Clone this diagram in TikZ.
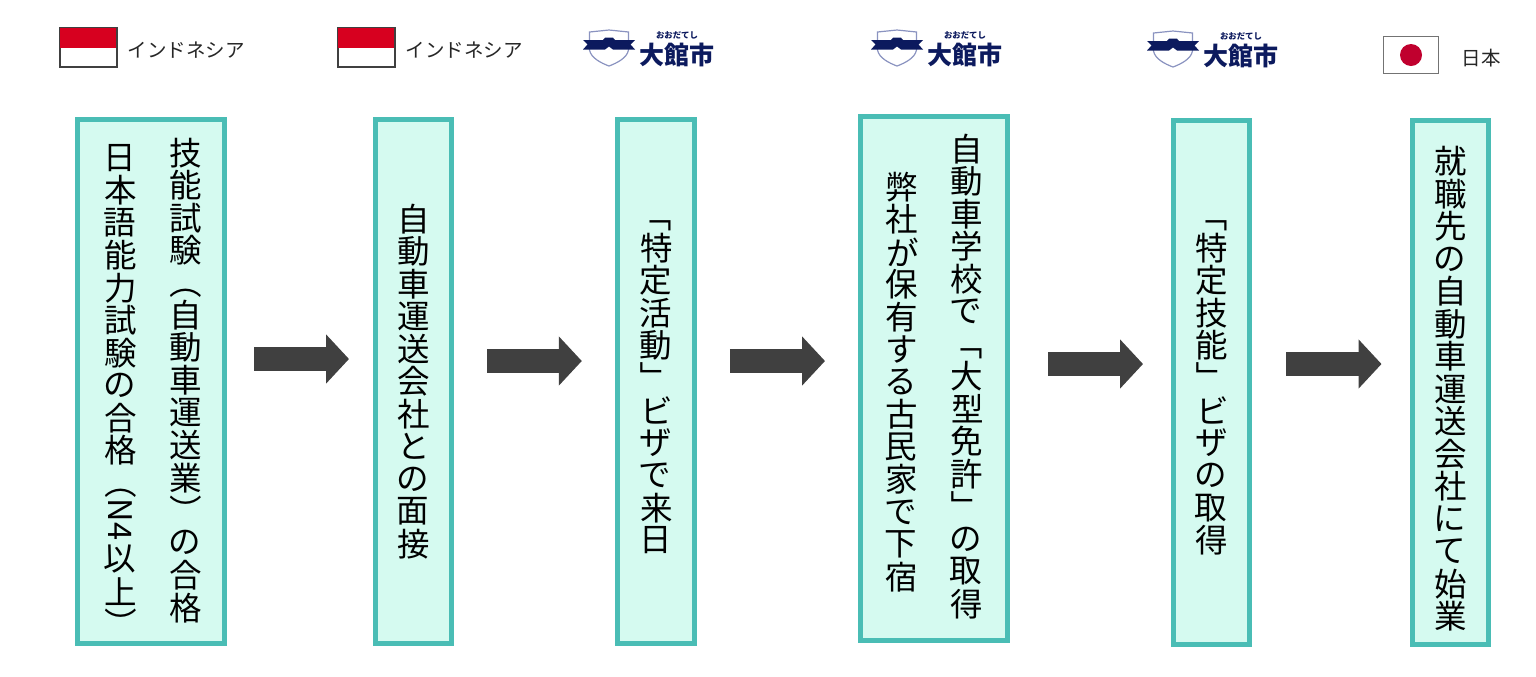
\documentclass[tikz,border=0pt]{standalone}
\usepackage{fontspec}
\usetikzlibrary{arrows.meta}
\setmainfont{Noto Sans CJK JP}
\makeatletter
\newcommand\tatecell{\expandafter\in@\expandafter{\tatenext}{（）「」}%
  \ifin@\tatenext\else
    \expandafter\in@\expandafter{\tatenext}{N4}%
    \ifin@\makebox[0.675em]{\tatenext}\else\makebox[1em]{\rotatebox[origin=c]{90}{\tatenext}}\fi
  \fi}
\newcommand\tateline[1]{\@tfor\tatenext:=#1\do{\tatecell}}
\makeatother
\definecolor{boxline}{HTML}{4ABDB5}
\definecolor{boxfill}{HTML}{D5FAF0}
\definecolor{arrowgray}{HTML}{404040}
\definecolor{logonavy}{HTML}{0C1A5E}
\definecolor{shieldline}{HTML}{8A93C0}
\definecolor{idred}{HTML}{D7001F}
\definecolor{jpred}{HTML}{C0002E}
\begin{document}
\begin{tikzpicture}[x=0.5pt,y=-0.5pt]

    \tikzset{
      stepbox/.style={
        draw=boxline,
        fill=boxfill,
        line width=2.5pt,
        inner sep=0pt,
      },
      tatetext/.style={
        rotate=-90,
        align=left,
        inner sep=0pt,
        font=\fontsize{16.25}{32.5}\selectfont,
      },
      flowarrow/.style={
        draw=arrowgray,
        line width=12pt,
        -{Triangle[length=11.5pt,width=24pt,color=arrowgray]},
      },
      flagbox/.style={
        draw=arrowgray,
        line width=0.6pt,
        fill=white,
        inner sep=0pt,
        minimum width=28.2pt,
        minimum height=19.2pt,
      },
      countrylabel/.style={
        inner sep=0pt,
        text=black!85,
        font=\fontsize{9.75}{12}\selectfont,
      },
      citylogo/.pic={
        \draw[shieldline,line width=0.6pt,fill=white] (6.5,2) -- (26,0) -- (45.5,2) -- (45.5,20)
          .. controls (44,28) and (34,33) .. (26,36)
          .. controls (18,33) and (8,28) .. (6.5,20) -- cycle;
        \fill[logonavy] (0,10) -- (20,10) -- (22,7.7) -- (30,7.7) -- (32,10) -- (52,10) -- (47.5,14.5)
          -- (52,19.5) -- (30,19.5) -- (26,16.5) -- (22,19.5) -- (0,19.5) -- (4.5,14.5) -- cycle;
        \node[inner sep=0pt,text=logonavy,font=\bfseries\fontsize{12.5}{14}\selectfont] (-name) at (94,24.5) {大館市};
        \node[inner sep=0pt,text=logonavy,font=\bfseries\fontsize{4.2}{5}\selectfont] (-kana) at (94,5) {おおだてし};
      },
    }
    \useasboundingbox (0,0) rectangle (1536,676);

    \node[stepbox,minimum width=73.5pt,minimum height=262pt] (box1) at (151,381.5) {};
    \node[stepbox,minimum width=38pt,minimum height=262pt] (box2) at (413.5,381.5) {};
    \node[stepbox,minimum width=38.5pt,minimum height=262pt] (box3) at (655.8,381.5) {};
    \node[stepbox,minimum width=73.5pt,minimum height=262pt] (box4) at (934,378.5) {};
    \node[stepbox,minimum width=38pt,minimum height=262pt] (box5) at (1211.5,382.5) {};
    \node[stepbox,minimum width=38pt,minimum height=262pt] (box6) at (1450,382.5) {};

    \node[tatetext] (text1) at (152.5,388.5) {\tateline{技能試験（自動車運送業）の合格}\\\hspace{2.5pt}\tateline{日本語能力試験の合格（N4以上）}};
    \node[tatetext] (text2) at (413.5,381.5) {\tateline{自動車運送会社との面接}};
    \node[tatetext] (text3) at (656,378) {\tateline{「特定活動」ビザで来日}};
    \node[tatetext] (text4) at (934,376.5) {\tateline{自動車学校で「大型免許」の取得}\\\hspace{19pt}\tateline{弊社が保有する古民家で下宿}};
    \node[tatetext] (text5) at (1211.5,378) {\tateline{「特定技能」ビザの取得}};
    \node[tatetext] (text6) at (1450,389) {\tateline{就職先の自動車運送会社にて始業}};

    \draw[flowarrow,shorten <=13.5pt,shorten >=12pt] (box1.east |- 0,359) -- (box2.west |- 0,359);
    \draw[flowarrow,shorten <=16.5pt,shorten >=16.5pt] (box2.east |- 0,361) -- (box3.west |- 0,361);
    \draw[flowarrow,shorten <=16.5pt,shorten >=16.5pt] (box3.east |- 0,361) -- (box4.west |- 0,361);
    \draw[flowarrow,shorten <=19pt,shorten >=14pt] (box4.east |- 0,364) -- (box5.west |- 0,364);
    \draw[flowarrow,shorten <=17pt,shorten >=14pt] (box5.east |- 0,364) -- (box6.west |- 0,364);

    \node[flagbox] (flag1) at (88.25,47.5) {};
    \fill[idred] (flag1.north west) rectangle (flag1.east);
    \draw[arrowgray,line width=0.6pt] (flag1.south west) rectangle (flag1.north east);
    \node[countrylabel] (label1) at (186,50) {インドネシア};

    \node[flagbox] (flag2) at (366.25,47.5) {};
    \fill[idred] (flag2.north west) rectangle (flag2.east);
    \draw[arrowgray,line width=0.6pt] (flag2.south west) rectangle (flag2.north east);
    \node[countrylabel] (label2) at (464,50) {インドネシア};

    \pic (city1) at (583,30) {citylogo};
    \pic (city2) at (871,30) {citylogo};
    \pic (city3) at (1147,31) {citylogo};

    \node[flagbox,draw=black!55,line width=0.8pt,minimum height=18.5pt,minimum width=27.5pt] (flag3) at (1411,55) {};
    \node[circle,fill=jpred,inner sep=0pt,minimum size=11pt] (sun) at (flag3) {};
    \node[countrylabel] (label3) at (1481,58) {日本};

\end{tikzpicture}
\end{document}
